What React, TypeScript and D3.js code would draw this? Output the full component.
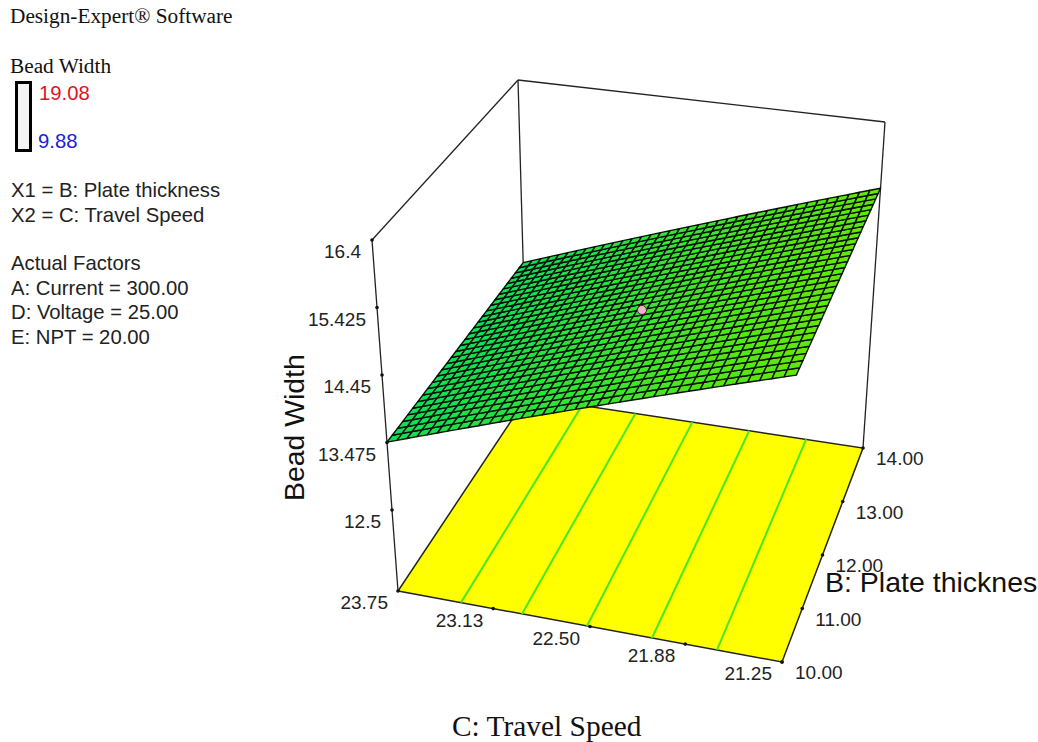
import React from "react";
import * as d3 from "d3";

// ---- chart values ----
const zTicks = [16.4, 15.425, 14.45, 13.475, 12.5];
const speedTicks = [23.75, 23.13, 22.5, 21.88, 21.25];
const thicknessTicks = [10, 11, 12, 13, 14];
const speedDomain = [23.75, 21.25];
const thicknessDomain = [10, 14];
const zDomain = [11.33, 16.4];
const surfaceSpeed = [23.75, 21.25];
const surfaceWidth = [13.48, 15.37];
const contourLevels = [13.79, 14.09, 14.41, 14.73, 15.05];
const designPoint = { speed: 22.5, thickness: 12, width: 14.42 };
const meshColumns = 37;
const meshRows = 30;
const legendHeader = ["Design-Expert® Software"];
const legendFactors = ["X1 = B: Plate thickness", "X2 = C: Travel Speed"];
const legendActual = ["Actual Factors", "A: Current = 300.00", "D: Voltage = 25.00", "E: NPT = 20.00"];

// ---- projection: box corners on the page ----
type P = [number, number];
const floorQuad: P[] = [[398, 591], [782, 662], [863, 448], [527, 397]];
const topQuad: P[] = [[372, 240], [800, 302], [885, 122], [518, 80]];

function homography(q: P[]) {
  const [[x0, y0], [x1, y1], [x2, y2], [x3, y3]] = q;
  const dx1 = x1 - x2, dx2 = x3 - x2, sx = x0 - x1 + x2 - x3;
  const dy1 = y1 - y2, dy2 = y3 - y2, sy = y0 - y1 + y2 - y3;
  const det = dx1 * dy2 - dx2 * dy1;
  const g = (sx * dy2 - dx2 * sy) / det;
  const h = (dx1 * sy - sx * dy1) / det;
  const a = x1 - x0 + g * x1, b = x3 - x0 + h * x3;
  const d = y1 - y0 + g * y1, e = y3 - y0 + h * y3;
  return (u: number, v: number): P => {
    const w = g * u + h * v + 1;
    return [(a * u + b * v + x0) / w, (d * u + e * v + y0) / w];
  };
}
const floorH = homography(floorQuad);
const topH = homography(topQuad);
const uScale = d3.scaleLinear().domain(speedDomain).range([0, 1]);
const vScale = d3.scaleLinear().domain(thicknessDomain).range([0, 1]);
const wScale = d3.scaleLinear().domain(zDomain).range([0, 1]);
// perspective projection, used for the surface and its design point
const project = (speed: number, thick: number, z: number): P => {
  const f = floorH(uScale(speed), vScale(thick));
  const t = topH(uScale(speed), vScale(thick));
  const w = wScale(z);
  return [f[0] + (t[0] - f[0]) * w, f[1] + (t[1] - f[1]) * w];
};
// the floor's ticks and contours are evenly spaced along its edges
const mix = (a: P, b: P, t: number): P => [a[0] + (b[0] - a[0]) * t, a[1] + (b[1] - a[1]) * t];
const floorAt = (speed: number, thick: number): P => {
  const u = uScale(speed), v = vScale(thick);
  return mix(mix(floorQuad[0], floorQuad[1], u), mix(floorQuad[3], floorQuad[2], u), v);
};
const line = d3.line<P>();
const widthAt = d3.scaleLinear().domain(surfaceSpeed).range(surfaceWidth);
const speedAt = d3.scaleLinear().domain(surfaceWidth).range(surfaceSpeed);
const colorAt = d3.scaleLinear<string>().domain(surfaceWidth).range(["#0ce058", "#62e808"]);

const sMin = speedDomain[0], sMax = speedDomain[1], tMin = thicknessDomain[0], tMax = thicknessDomain[1], zMin = zDomain[0], zMax = zDomain[1];
const speedStep = d3.scaleLinear().domain([0, meshColumns]).range(speedDomain);
const thickStep = d3.scaleLinear().domain([0, meshRows]).range(thicknessDomain);

const sans = "'Liberation Sans', Arial, sans-serif";
const serif = "'Liberation Serif', 'Times New Roman', serif";

export default function App() {
  const cells: { d: string; fill: string }[] = [];
  for (let i = 0; i < meshColumns; i++) {
    for (let j = 0; j < meshRows; j++) {
      const s0 = speedStep(i), s1 = speedStep(i + 1), t0 = thickStep(j), t1 = thickStep(j + 1);
      const d = line([
        project(s0, t0, widthAt(s0)),
        project(s1, t0, widthAt(s1)),
        project(s1, t1, widthAt(s1)),
        project(s0, t1, widthAt(s0)),
      ])! + "Z";
      cells.push({ d, fill: colorAt(widthAt((s0 + s1) / 2)) });
    }
  }
  const floor = line([
    project(sMin, tMin, zMin), project(sMax, tMin, zMin), project(sMax, tMax, zMin), project(sMin, tMax, zMin),
  ])! + "Z";
  const frame = [
    [project(sMin, tMin, zMin), project(sMin, tMin, zMax)],
    [project(sMin, tMax, zMin), project(sMin, tMax, zMax)],
    [project(sMax, tMax, zMin), project(sMax, tMax, zMax)],
    [project(sMin, tMin, zMax), project(sMin, tMax, zMax)],
    [project(sMin, tMax, zMax), project(sMax, tMax, zMax)],
  ];
  const dot = project(designPoint.speed, designPoint.thickness, designPoint.width);
  const tickText = { fontFamily: sans, fontSize: 19, fill: "#222" };
  const legendText = { fontFamily: sans, fontSize: 20.3, fill: "#222" };
  return (
    <svg width={1038} height={742} viewBox="0 0 1038 742"
      style={{ position: "absolute", left: 0, top: 0, display: "block", background: "#fff" }}>
      {/* legend */}
      <text x={10} y={23} fontFamily={serif} fontSize={21.3} fill="#111">{legendHeader[0]}</text>
      <text x={10} y={73} fontFamily={serif} fontSize={21.3} fill="#111">Bead Width</text>
      <rect x={16.5} y={82.5} width={14} height={68} fill="#f4f4f4" stroke="#000" strokeWidth={3} />
      <text x={39} y={100} {...legendText} fill="#e0141e">19.08</text>
      <text x={38} y={148} {...legendText} fill="#2020d8">9.88</text>
      {legendFactors.map((t, i) => (
        <text key={t} x={11} y={197 + i * 25} {...legendText}>{t}</text>
      ))}
      {legendActual.map((t, i) => (
        <text key={t} x={11} y={270 + i * 24.5} {...legendText}>{t}</text>
      ))}

      {/* box frame */}
      {frame.map((seg, i) => (
        <path key={i} d={line(seg)!} fill="none" stroke="#222" strokeWidth={1.3} />
      ))}

      {/* floor with contours */}
      <path d={floor} fill="#ffff00" stroke="#222" strokeWidth={1.5} />
      {contourLevels.map((lv) => {
        const s = speedAt(lv);
        return <path key={lv} d={line([floorAt(s, tMin), floorAt(s, tMax)])!} fill="none" stroke="#46e820" strokeWidth={2} />;
      })}

      {/* tick dots */}
      {zTicks.map((z) => { const p = project(sMin, tMin, z); return <circle key={z} cx={p[0]} cy={p[1]} r={1.8} fill="#111" />; })}
      {speedTicks.map((s) => { const p = floorAt(s, tMin); return <circle key={s} cx={p[0]} cy={p[1]} r={1.8} fill="#111" />; })}
      {thicknessTicks.map((b) => { const p = floorAt(sMax, b); return <circle key={b} cx={p[0]} cy={p[1]} r={1.8} fill="#111" />; })}

      {/* response surface */}
      <g stroke="#061006" strokeWidth={1.4} strokeLinejoin="round">
        {cells.map((c, i) => <path key={i} d={c.d} fill={c.fill} />)}
      </g>
      <circle cx={dot[0]} cy={dot[1]} r={4.5} fill="#f2b4c4" stroke="#333" strokeWidth={1} />

      {/* tick labels */}
      {zTicks.map((z) => { const p = project(sMin, tMin, z); return <text key={z} x={p[0] - 11} y={p[1] + 18} textAnchor="end" {...tickText}>{String(z)}</text>; })}
      {speedTicks.map((s) => { const p = floorAt(s, tMin); return <text key={s} x={p[0] - 10} y={p[1] + 18} textAnchor="end" {...tickText}>{s.toFixed(2)}</text>; })}
      {thicknessTicks.map((b) => { const p = floorAt(sMax, b); return <text key={b} x={p[0] + 13} y={p[1] + 17} {...tickText}>{b.toFixed(2)}</text>; })}

      {/* axis titles */}
      <text transform="translate(304,501) rotate(-90)" fontFamily={sans} fontSize={28.4} fill="#111">Bead Width</text>
      <text x={825} y={592} fontFamily={sans} fontSize={28.5} fill="#111">B: Plate thicknes</text>
      <text x={452} y={736} fontFamily={serif} fontSize={29.4} fill="#111">C: Travel Speed</text>
    </svg>
  );
}
